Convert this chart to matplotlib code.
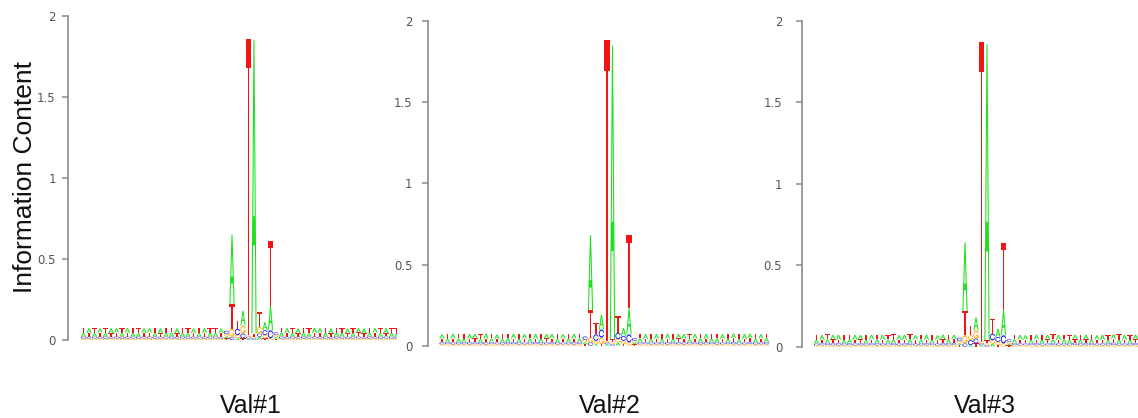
import numpy as np
import matplotlib
matplotlib.use('Agg')
import matplotlib.pyplot as plt
from matplotlib.patches import Polygon

# letter heights per position, in thousandths of a bit
# panel 1 (Val#1)
A1 = [24, 30, 22, 26, 20, 31, 28, 22, 30, 25,
      21, 29, 27, 23, 30, 22, 26, 31, 24, 20,
      28, 23, 30, 25, 22, 27, 12,
      430, 10, 90, 10, 1810, 20, 50, 150,
      10, 26, 30, 22, 29,
      24, 21, 30, 27, 23, 31, 22, 25, 29, 21,
      26, 30, 23, 28, 22, 31, 25, 20, 29, 24]
C1 = [12, 13, 11, 12, 14, 12, 11, 13, 12, 12,
      13, 11, 12, 14, 12, 11, 13, 12, 12, 14,
      11, 12, 13, 12, 11, 12, 20,
      20, 40, 30, 10, 10, 20, 30, 50,
      18, 12, 13, 11, 12,
      14, 12, 11, 13, 12, 12, 14, 11, 12, 13,
      12, 11, 14, 12, 13, 12, 11, 12, 14, 12]
G1 = [9, 8, 10, 9, 8, 9, 10, 8, 9, 9,
      8, 10, 9, 8, 9, 10, 8, 9, 10, 8,
      9, 10, 8, 9, 10, 8, 15,
      50, 20, 50, 10, 10, 40, 20, 10,
      12, 9, 8, 10, 9,
      8, 9, 10, 8, 9, 8, 10, 9, 8, 9,
      10, 8, 9, 9, 8, 10, 9, 8, 10, 9]
T1 = [31, 22, 29, 25, 32, 21, 24, 30, 23, 28,
      31, 22, 25, 30, 21, 32, 27, 20, 29, 31,
      23, 30, 22, 27, 31, 24, 10,
      150, 50, 10, 1830, 20, 90, 10, 400,
      8, 27, 22, 31, 21,
      29, 32, 23, 25, 30, 21, 31, 27, 22, 30,
      25, 22, 30, 24, 31, 20, 28, 32, 23, 29]

# panel 2 (Val#2)
A2 = [27, 21, 30, 24, 22, 29, 26, 20, 31, 23,
      28, 22, 25, 30, 21, 27, 24, 31, 22, 26,
      29, 21, 27, 23, 30, 24, 12,
      460, 10, 90, 10, 1810, 20, 50, 160,
      10, 25, 30, 21, 28,
      23, 31, 22, 26, 29, 20, 27, 24, 30, 22,
      25, 29, 21, 28, 23, 30, 26, 22, 27, 24]
C2 = [12, 11, 13, 12, 12, 14, 11, 12, 13, 12,
      11, 12, 14, 12, 13, 11, 12, 12, 14, 11,
      12, 13, 11, 12, 14, 12, 22,
      20, 40, 50, 10, 10, 40, 30, 50,
      18, 12, 11, 13, 12,
      12, 14, 11, 12, 13, 12, 11, 14, 12, 12,
      13, 11, 12, 14, 12, 11, 13, 12, 12, 14]
G2 = [9, 10, 8, 9, 9, 8, 10, 9, 8, 10,
      9, 8, 9, 10, 8, 9, 9, 10, 8, 9,
      10, 8, 9, 9, 8, 10, 14,
      30, 20, 40, 10, 10, 20, 20, 20,
      12, 9, 10, 8, 9,
      9, 8, 10, 9, 8, 9, 10, 8, 9, 10,
      8, 9, 10, 9, 8, 9, 10, 8, 9, 9]
T2 = [22, 30, 23, 29, 31, 21, 25, 30, 22, 28,
      21, 31, 27, 22, 30, 24, 29, 20, 31, 25,
      22, 30, 24, 29, 21, 27, 9,
      170, 70, 10, 1850, 20, 100, 10, 450,
      8, 28, 21, 31, 22,
      30, 21, 29, 25, 22, 31, 23, 28, 21, 30,
      27, 22, 31, 24, 29, 21, 25, 30, 23, 28]

# panel 3 (Val#3)
A3 = [25, 29, 22, 27, 31, 21, 24, 30, 26, 22,
      29, 23, 31, 25, 21, 28, 30, 22, 26, 24,
      31, 20, 27, 29, 23, 26, 11,
      420, 10, 80, 10, 1815, 20, 50, 155,
      10, 23, 29, 26, 21,
      30, 24, 27, 22, 31, 25, 21, 28, 23, 29,
      22, 26, 30, 21, 27, 24, 31, 22, 28, 25]
C3 = [11, 12, 13, 12, 14, 11, 12, 12, 13, 11,
      12, 14, 12, 11, 13, 12, 12, 14, 11, 12,
      13, 12, 11, 14, 12, 12, 21,
      20, 30, 30, 10, 10, 40, 30, 50,
      17, 12, 13, 11, 12,
      14, 12, 11, 13, 12, 12, 11, 14, 12, 13,
      12, 11, 13, 12, 14, 12, 11, 12, 13, 12]
G3 = [8, 9, 10, 9, 8, 9, 10, 8, 9, 9,
      10, 8, 9, 9, 10, 8, 9, 10, 8, 9,
      9, 10, 8, 9, 9, 10, 14,
      50, 30, 50, 10, 10, 20, 20, 20,
      12, 10, 8, 9, 10,
      9, 8, 9, 10, 8, 9, 9, 10, 8, 9,
      10, 9, 8, 9, 10, 8, 9, 9, 10, 8]
T3 = [29, 21, 30, 24, 20, 31, 27, 22, 23, 30,
      22, 29, 21, 26, 31, 23, 21, 30, 25, 28,
      20, 31, 24, 22, 30, 25, 9,
      150, 60, 20, 1840, 20, 90, 10, 410,
      8, 29, 22, 24, 31,
      21, 28, 25, 31, 22, 27, 30, 21, 29, 23,
      30, 24, 21, 29, 25, 31, 22, 28, 23, 27]

titles = ['Val#1', 'Val#2', 'Val#3']
yticks = [0, 0.5, 1, 1.5, 2]
ytick_labels = ['0', '0.5', '1', '1.5', '2']

colors = {'A': '#1fe01f', 'C': '#1010e0', 'G': '#ffa500', 'T': '#f01414'}


# letter outlines in a unit box, drawn like R's seqLogo polygons
def c_outline():
    ang = np.linspace(np.pi / 2 + 0.3, 1.5 * np.pi, 60)
    ox, oy = 0.5 + 0.5 * np.sin(ang), 0.5 + 0.5 * np.cos(ang)
    ix, iy = 0.5 + 0.35 * np.sin(ang), 0.5 + 0.35 * np.cos(ang)
    outer = np.r_[np.c_[ox, oy], np.c_[ox[::-1], 1 - oy[::-1]]]
    inner = np.r_[np.c_[ix, iy], np.c_[ix[::-1], 1 - iy[::-1]]]
    return np.r_[outer, inner[::-1]]


shapes = {
    'A': [(np.array([[0, 0], [0.4, 1], [0.6, 1], [1, 0], [0.8, 0],
                     [0.68, 0.3], [0.32, 0.3], [0.2, 0]]), True),
          (np.array([[0.36, 0.4], [0.5, 0.75], [0.64, 0.4]]), False)],
    'T': [(np.array([[0, 1], [1, 1], [1, 0.9], [0.6, 0.9], [0.6, 0],
                     [0.4, 0], [0.4, 0.9], [0, 0.9]]), True)],
    'C': [(c_outline(), True)],
    'G': [(c_outline(), True),
          (np.array([[0.98, 0.42], [0.55, 0.42], [0.55, 0.3], [0.8, 0.3],
                     [0.8, 0.05], [0.98, 0.2]]), True)],
}


def draw_letter(ax, ch, x, y, w, h):
    for pts, filled in shapes[ch]:
        xy = np.c_[x + pts[:, 0] * w, y + pts[:, 1] * h]
        ax.add_patch(Polygon(xy, closed=True, fc=colors[ch] if filled else 'white',
                             ec='none', lw=0))


def draw_logo(ax, a, c, g, t):
    for i in range(len(a)):
        # smallest letter at the bottom, largest on top
        stack = sorted(zip([a[i], c[i], g[i], t[i]], 'ACGT'))
        y = 0
        for h, ch in stack:
            h = h / 1000
            draw_letter(ax, ch, i + 0.02, y, 0.96, h)
            y += h


W, H = 1138, 418
fig = plt.figure(figsize=(W / 100, H / 100), dpi=100)

# pixel layout: spine x, y of 0, y of 2, right edge, left edge of first column, label pad
layout = [(68, 340, 16, 397, 80.75, 4.5),
          (428, 345.7, 21, 770, 439.25, 7),
          (802, 346.7, 20.7, 1138, 813.75, 10)]
col_w = 5.5
title_x = [251, 610, 985]
data = [(A1, C1, G1, T1), (A2, C2, G2, T2), (A3, C3, G3, T3)]

for k, (sx, y0, y2, rx, cx, pad) in enumerate(layout):
    ax = fig.add_axes([sx / W, (H - y0) / H, (rx - sx) / W, (y0 - y2) / H])
    draw_logo(ax, *data[k])
    ax.set_xlim((sx - cx) / col_w, (rx - cx) / col_w)
    ax.set_ylim(0, 2)
    for s in ['top', 'right', 'bottom']:
        ax.spines[s].set_visible(False)
    ax.spines['left'].set_color('#8a8a8a')
    ax.spines['left'].set_linewidth(1.2)
    ax.set_xticks([])
    ax.set_yticks(yticks)
    ax.set_yticklabels(ytick_labels)
    ax.tick_params(axis='y', length=4.3, width=1.1, color='#8a8a8a',
                   labelcolor='#555555', labelsize=8.5, pad=pad)
    ax.patch.set_alpha(0)
    fig.text(title_x[k] / W, 5 / H, titles[k], ha='center', va='baseline',
             fontsize=18, family='Liberation Sans', color='#111111')

fig.text(25.5 / W, (H - 177) / H, 'Information Content', rotation=90, ha='center',
         va='center', fontsize=19, family='Liberation Sans', color='#111111')

fig.savefig('out.png', dpi=100)
